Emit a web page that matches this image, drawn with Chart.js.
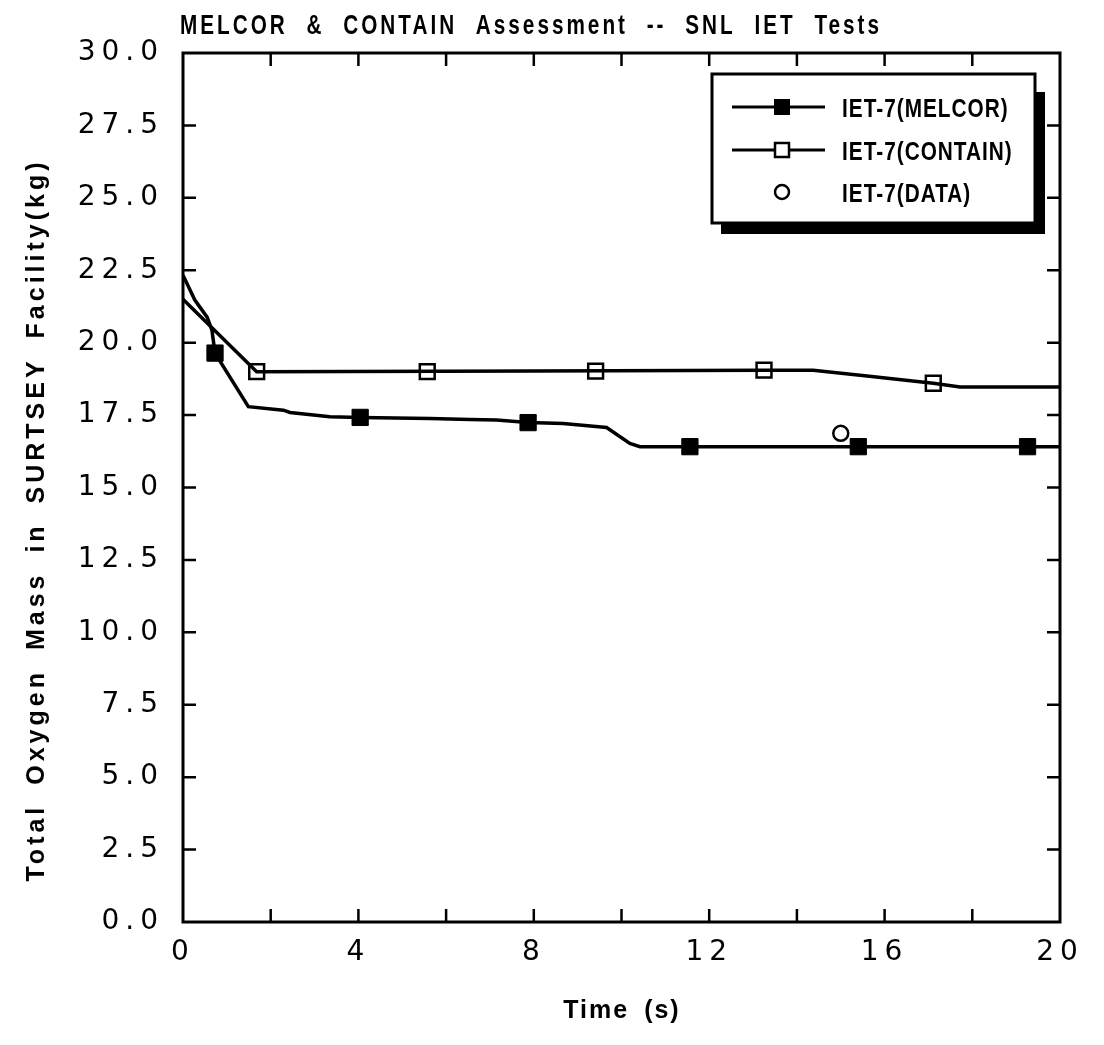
<!DOCTYPE html>
<html>
<head>
<meta charset="utf-8">
<script src="https://cdn.jsdelivr.net/npm/chart.js@4"></script>
<style>
  html, body { margin: 0; padding: 0; background: #fff; }
  #wrap { width: 1104px; height: 1045px; }
</style>
</head>
<body>
<div id="wrap"><canvas id="myChart" width="1104" height="1045"></canvas></div>
<script>
// values (time in s, mass in kg)
const melcorTime = [0, 0.27, 0.55, 0.66, 0.73, 1.49, 2.29, 2.44, 3.35, 4.04, 5.63, 6.55, 7.15, 7.87, 8.67, 9.66, 10.19, 10.42, 20];
const melcorMass = [22.33, 21.47, 20.88, 20.43, 19.64, 17.79, 17.67, 17.59, 17.44, 17.42, 17.38, 17.35, 17.33, 17.24, 17.21, 17.07, 16.52, 16.41, 16.41];

const containTime = [0, 1.68, 8, 13.25, 14.37, 15.6, 17.11, 17.72, 20];
const containMass = [21.5, 19.0, 19.02, 19.05, 19.05, 18.85, 18.6, 18.47, 18.47];

// symbol positions
const melcorMarkTime = [0.73, 4.04, 7.87, 11.56, 15.4, 19.26];
const melcorMarkMass = [19.64, 17.42, 17.24, 16.41, 16.41, 16.41];
const containMarkTime = [1.68, 5.57, 9.41, 13.25, 17.11];
const containMarkMass = [19.0, 19.0, 19.02, 19.05, 18.6];

const dataTime = [15.0];
const dataMass = [16.87];

const legendLabels = ['IET-7(MELCOR)', 'IET-7(CONTAIN)', 'IET-7(DATA)'];
const chartTitle = 'MELCOR & CONTAIN Assessment -- SNL IET Tests';
const xTitle = 'Time (s)';
const yTitle = 'Total Oxygen Mass in SURTSEY Facility(kg)';

function pts(xs, ys) {
  return xs.map((x, i) => ({ x: x, y: ys[i] }));
}

// text with horizontal squeeze + letter/word spacing (plotter style lettering)
function drawText(ctx, s, x, y, o) {
  ctx.save();
  ctx.translate(x, y);
  if (o.rot) ctx.rotate(o.rot);
  ctx.scale(o.sx || 1, 1);
  ctx.font = (o.weight || 'normal') + ' ' + o.size + 'px "Liberation Sans"';
  ctx.letterSpacing = (o.ls || 0) / (o.sx || 1) + 'px';
  ctx.wordSpacing = (o.ws || 0) / (o.sx || 1) + 'px';
  ctx.textAlign = o.align || 'left';
  ctx.textBaseline = o.baseline || 'alphabetic';
  ctx.fillStyle = '#000';
  ctx.fillText(s, 0, 0);
  ctx.restore();
}

const TICK_FONT = { family: 'DejaVu Sans', size: 28 };

const plotDecor = {
  id: 'plotDecor',
  beforeDraw(chart) {
    chart.ctx.letterSpacing = '0px';
  },
  afterDatasetsDraw(chart) {
    const ctx = chart.ctx;
    const a = chart.chartArea;
    const xs = chart.scales.x, ys = chart.scales.y;
    ctx.save();
    ctx.strokeStyle = '#000';
    ctx.lineWidth = 3;
    ctx.strokeRect(a.left, a.top, a.right - a.left, a.bottom - a.top);
    ctx.lineWidth = 2.5;
    ctx.beginPath();
    xs.ticks.forEach(t => {
      if (t.value <= xs.min || t.value >= xs.max) return;
      const px = xs.getPixelForValue(t.value);
      ctx.moveTo(px, a.bottom); ctx.lineTo(px, a.bottom - 13);
      ctx.moveTo(px, a.top); ctx.lineTo(px, a.top + 13);
    });
    ys.ticks.forEach(t => {
      if (t.value <= ys.min || t.value >= ys.max) return;
      const py = ys.getPixelForValue(t.value);
      ctx.moveTo(a.left, py); ctx.lineTo(a.left + 13, py);
      ctx.moveTo(a.right, py); ctx.lineTo(a.right - 13, py);
    });
    ctx.stroke();
    ctx.restore();
    ctx.letterSpacing = '6px'; // tick labels are drawn next (ticks.z = 1)
  },
  afterDraw(chart) {
    const ctx = chart.ctx;
    ctx.letterSpacing = '0px';

    drawText(ctx, chartTitle, 180, 34, { size: 28, weight: 'bold', sx: 0.74, ls: 3, ws: 10 });
    drawText(ctx, xTitle, 622, 1018, { size: 25, weight: 'bold', ls: 2, ws: 6, align: 'center' });
    drawText(ctx, yTitle, 44, 520, { size: 25, weight: 'bold', ls: 4, ws: 8, align: 'center', rot: -Math.PI / 2 });

    // legend box with drop shadow
    ctx.save();
    const bx = 712, by = 74, bw = 323, bh = 149;
    ctx.fillStyle = '#000';
    ctx.fillRect(bx + bw, by + 18, 10, bh - 7);
    ctx.fillRect(bx + 9, by + bh, bw + 1, 11);
    ctx.fillStyle = '#fff';
    ctx.fillRect(bx, by, bw, bh);
    ctx.strokeStyle = '#000';
    ctx.lineWidth = 3;
    ctx.strokeRect(bx, by, bw, bh);

    const rows = [107, 150, 192];
    ctx.beginPath();
    ctx.moveTo(732, rows[0]); ctx.lineTo(825, rows[0]);
    ctx.moveTo(732, rows[1]); ctx.lineTo(825, rows[1]);
    ctx.stroke();
    ctx.fillStyle = '#000';
    ctx.fillRect(782 - 8, rows[0] - 8, 16, 16);
    ctx.fillStyle = '#fff';
    ctx.fillRect(782 - 7, rows[1] - 7, 14, 14);
    ctx.lineWidth = 2.5;
    ctx.strokeRect(782 - 7, rows[1] - 7, 14, 14);
    ctx.beginPath();
    ctx.arc(782, rows[2], 7, 0, Math.PI * 2);
    ctx.stroke();
    ctx.restore();

    legendLabels.forEach((s, i) =>
      drawText(ctx, s, 842, rows[i] + 10, { size: 26, weight: 'bold', sx: 0.8, ls: 1 }));
  }
};

const ctx = document.getElementById('myChart').getContext('2d');
const chart = new Chart(ctx, {
  type: 'scatter',
  data: {
    datasets: [
      {
        label: 'melcor line',
        data: pts(melcorTime, melcorMass),
        showLine: true,
        borderColor: '#000',
        borderWidth: 3.5,
        pointRadius: 0,
        tension: 0
      },
      {
        label: 'contain line',
        data: pts(containTime, containMass),
        showLine: true,
        borderColor: '#000',
        borderWidth: 3.5,
        pointRadius: 0,
        tension: 0
      },
      {
        label: legendLabels[0],
        data: pts(melcorMarkTime, melcorMarkMass),
        pointStyle: 'rect',
        pointRadius: 11.5,
        backgroundColor: '#000',
        borderColor: '#000',
        borderWidth: 1
      },
      {
        label: legendLabels[1],
        data: pts(containMarkTime, containMarkMass),
        pointStyle: 'rect',
        pointRadius: 10.5,
        backgroundColor: '#fff',
        borderColor: '#000',
        borderWidth: 2.5
      },
      {
        label: legendLabels[2],
        data: pts(dataTime, dataMass),
        pointStyle: 'circle',
        pointRadius: 7.5,
        backgroundColor: 'rgba(0,0,0,0)',
        borderColor: '#000',
        borderWidth: 2.5
      }
    ]
  },
  options: {
    responsive: false,
    animation: false,
    layout: { padding: { top: 53, right: 44, left: 0, bottom: 0 } },
    plugins: {
      legend: { display: false },
      tooltip: { enabled: false },
      title: { display: false }
    },
    scales: {
      x: {
        type: 'linear',
        min: 0,
        max: 20,
        grid: { display: false, drawTicks: false },
        border: { display: false },
        ticks: {
          stepSize: 2,
          autoSkip: false,
          maxRotation: 0,
          padding: 14,
          z: 1,
          color: '#000',
          font: TICK_FONT,
          callback: v => (v % 4 === 0 ? String(v) : '')
        },
        afterFit: s => { s.height = 123; }
      },
      y: {
        type: 'linear',
        min: 0,
        max: 30,
        grid: { display: false, drawTicks: false },
        border: { display: false },
        ticks: {
          stepSize: 2.5,
          autoSkip: false,
          padding: 19,
          z: 1,
          color: '#000',
          font: TICK_FONT,
          callback: v => v.toFixed(1)
        },
        afterFit: s => { s.width = 183; }
      }
    }
  },
  plugins: [plotDecor]
});
</script>
</body>
</html>
